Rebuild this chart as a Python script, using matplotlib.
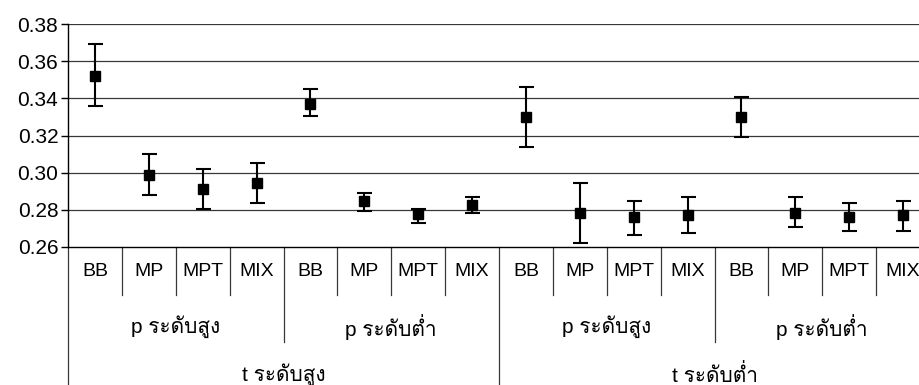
import matplotlib
matplotlib.use("Agg")
import matplotlib.pyplot as plt
from matplotlib import font_manager as fm
from matplotlib.ft2font import FT2Font
import matplotlib.transforms as mtransforms

# ---- data ----
methods = ["BB", "MP", "MPT", "MIX"] * 4
p_labels = ["p ระดับสูง", "p ระดับต่ำ", "p ระดับสูง", "p ระดับต่ำ"]
t_labels = ["t ระดับสูง", "t ระดับต่ำ"]
means = [0.3521, 0.2986, 0.2911, 0.2943,
         0.3372, 0.2848, 0.2776, 0.2828,
         0.3297, 0.2783, 0.2761, 0.2772,
         0.3297, 0.2785, 0.2761, 0.2772]
upper = [0.3694, 0.3103, 0.3018, 0.3051,
         0.3448, 0.2891, 0.2804, 0.2869,
         0.3459, 0.2943, 0.2846, 0.2868,
         0.3405, 0.2868, 0.2837, 0.2846]
lower = [0.3360, 0.2878, 0.2803, 0.2837,
         0.3306, 0.2794, 0.2727, 0.2783,
         0.3137, 0.2621, 0.2664, 0.2675,
         0.3191, 0.2706, 0.2688, 0.2688]
yticks = [0.26, 0.28, 0.30, 0.32, 0.34, 0.36, 0.38]

# ---- fonts ----
def thai_fonts():
    names = []
    for f in fm.fontManager.ttflist:
        try:
            cm = FT2Font(f.fname).get_charmap()
            if 0x0E23 in cm and 0x0E33 in cm and f.name not in names:
                names.append(f.name)
        except Exception:
            pass
    if "Loma" in names:
        names.remove("Loma")
        names.insert(0, "Loma")
    return names[:3]

thai = thai_fonts()
family = ["Liberation Sans"] + thai + ["DejaVu Sans"]
plt.rcParams["font.family"] = family

W, H = 919, 385
fig = plt.figure(figsize=(W / 100, H / 100), dpi=100)
L, R, T, B = 68, 930, 24, 247
ax = fig.add_axes([L / W, (H - B) / H, (R - L) / W, (B - T) / H])

n = len(means)
xs = [i + 0.5 for i in range(n)]
yerr = [[m - lo for m, lo in zip(means, lower)], [hi - m for m, hi in zip(means, upper)]]
ax.errorbar(xs, means, yerr=yerr, fmt="s", color="black", ms=6.8, capsize=5.4,
            elinewidth=1.5, capthick=1.5, zorder=3)

ax.set_xlim(0, n)
ax.set_ylim(0.26, 0.38)
ax.set_yticks(yticks)
ax.set_yticklabels([f"{v:.2f}" for v in yticks], fontsize=15)
ax.tick_params(axis="y", length=5, width=1, pad=2)
ax.set_xticks([])
for v in yticks[1:]:
    ax.axhline(v, color="#383838", lw=0.9, zorder=1)
for s in ["top", "right"]:
    ax.spines[s].set_visible(False)
ax.spines["left"].set_linewidth(1)
ax.spines["bottom"].set_linewidth(1)

trans = mtransforms.blended_transform_factory(ax.transData, ax.transAxes)
ph = B - T
def af(py):
    return (B - py) / ph

# separators
for i in range(n + 1):
    if i % 8 == 0:
        y0 = af(400)
    elif i % 4 == 0:
        y0 = af(342)
    else:
        y0 = af(295)
    ax.plot([i, i], [0, y0], transform=trans, color="#383838", lw=0.9, clip_on=False)

for i, m in enumerate(methods):
    ax.text(i + 0.5, af(272), m, transform=trans, ha="center", va="center", fontsize=14)
for j, p in enumerate(p_labels):
    ax.text(4 * j + 2, af(327), p, transform=trans, ha="center", va="center", fontsize=15)
for j, t in enumerate(t_labels):
    ax.text(8 * j + 4, af(375), t, transform=trans, ha="center", va="center", fontsize=15)

fig.savefig("out.png", dpi=100)
